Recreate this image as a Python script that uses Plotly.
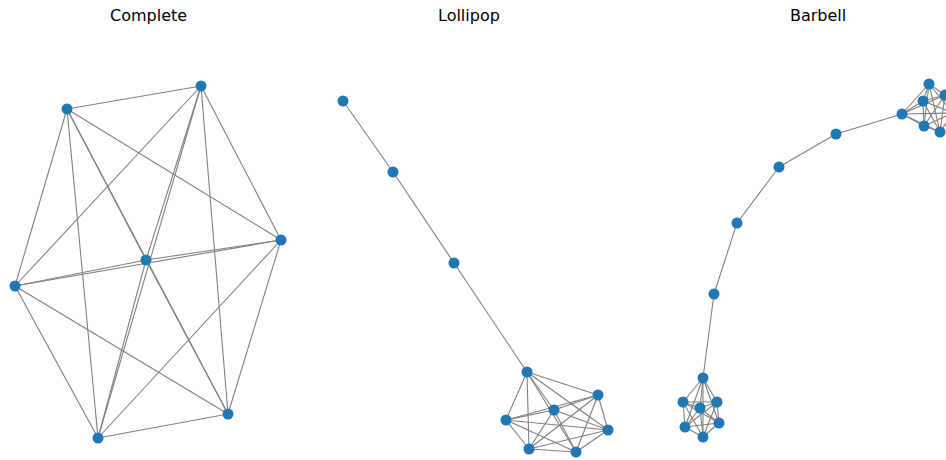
import itertools
import plotly.graph_objects as go
from plotly.subplots import make_subplots

# Node layouts for the three graphs (layout units, y grows downward)
complete_x = [67, 201, 281, 146, 15, 228, 98]
complete_y = [109, 86, 240, 260, 286, 414, 438]

lollipop_clique_x = [527, 598, 554, 506, 608, 529, 576]
lollipop_clique_y = [372, 395, 410, 420, 430, 449, 452]
lollipop_path_x = [454, 393, 343]
lollipop_path_y = [263, 172, 101]

barbell_left_x = [703, 683, 717, 700, 685, 719, 703]
barbell_left_y = [378, 402, 402, 408, 427, 423, 437]
barbell_path_x = [714, 737, 779, 836]
barbell_path_y = [294, 223, 167, 134]
barbell_right_x = [902, 929, 923, 945, 924, 940, 953]
barbell_right_y = [114, 84, 101, 95, 126, 132, 113]

titles = ["Complete", "Lollipop", "Barbell"]
title_x = [148, 469, 818]

NODE_COLOR = "#1f77b4"
EDGE_COLOR = "#808080"
W, H = 946, 460


def clique_edges(n, offset=0):
    return [(a + offset, b + offset) for a, b in itertools.combinations(range(n), 2)]


def path_edges(nodes):
    return list(zip(nodes[:-1], nodes[1:]))


graphs = []

# Complete graph K7
graphs.append((complete_x, complete_y, clique_edges(7)))

# Lollipop: K7 with a 3-node tail hanging off node 0
lx = lollipop_clique_x + lollipop_path_x
ly = lollipop_clique_y + lollipop_path_y
l_edges = clique_edges(7) + path_edges([0, 7, 8, 9])
graphs.append((lx, ly, l_edges))

# Barbell: two K7 bells joined by a 4-node path
bx = barbell_left_x + barbell_path_x + barbell_right_x
by = barbell_left_y + barbell_path_y + barbell_right_y
b_edges = clique_edges(7) + path_edges([0, 7, 8, 9, 10, 11]) + clique_edges(7, offset=11)
graphs.append((bx, by, b_edges))

fig = make_subplots(rows=1, cols=3, horizontal_spacing=0)

for i, (xs, ys, edges) in enumerate(graphs, start=1):
    ex, ey = [], []
    for a, b in edges:
        ex += [xs[a], xs[b], None]
        ey += [ys[a], ys[b], None]
    fig.add_trace(go.Scatter(x=ex, y=ey, mode="lines",
                             line=dict(color=EDGE_COLOR, width=1.1),
                             hoverinfo="skip", showlegend=False, cliponaxis=False),
                  row=1, col=i)
    fig.add_trace(go.Scatter(x=xs, y=ys, mode="markers",
                             marker=dict(color=NODE_COLOR, size=11, line=dict(width=0)),
                             showlegend=False, cliponaxis=False),
                  row=1, col=i)

# Each panel shares the same layout coordinate frame
bounds = [0, 316, 632, W]
for i in range(3):
    lo, hi = bounds[i], bounds[i + 1]
    fig.update_xaxes(range=[lo, hi], domain=[lo / W, hi / W], visible=False,
                     row=1, col=i + 1)
    fig.update_yaxes(range=[H, 0], domain=[0, 1], visible=False, row=1, col=i + 1)
    fig.add_annotation(text=titles[i], x=title_x[i] / W, y=15, xref="paper",
                       xanchor="center", yanchor="middle",
                       yref=f"y{'' if i == 0 else i + 1}", showarrow=False,
                       font=dict(family="DejaVu Sans", size=16, color="black"))

fig.update_layout(width=W, height=H, margin=dict(l=0, r=0, t=0, b=0),
                  paper_bgcolor="white", plot_bgcolor="white")

fig.write_html("out.html")
